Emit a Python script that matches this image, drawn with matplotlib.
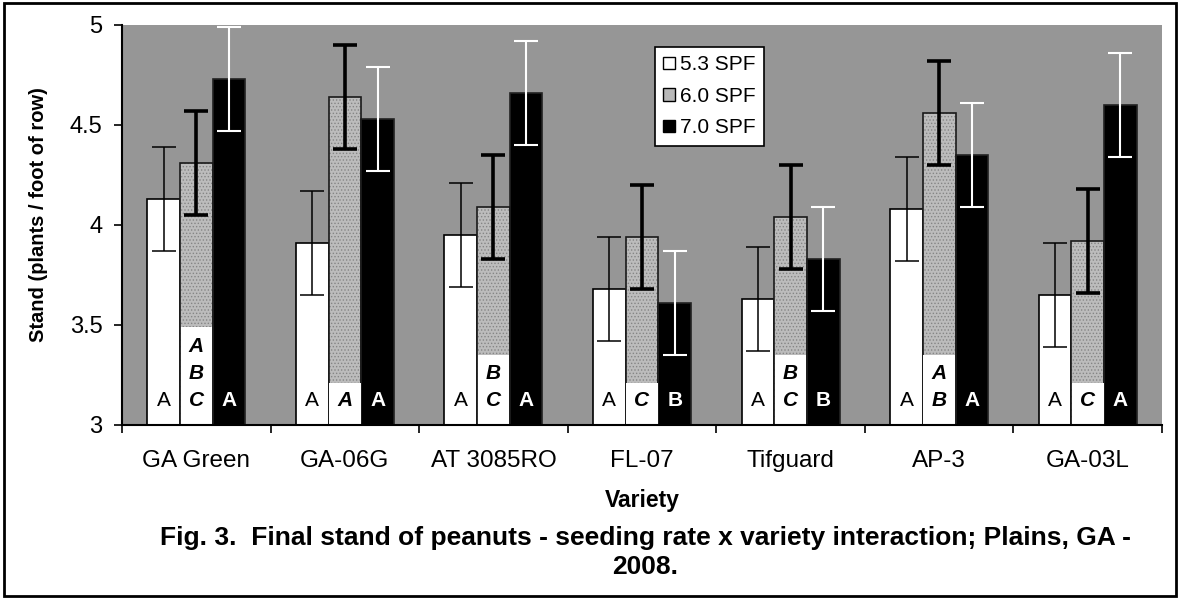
import numpy as np
import matplotlib
matplotlib.use("Agg")
import matplotlib.pyplot as plt
from matplotlib.patches import Patch, Rectangle

plt.rcParams['font.family'] = ['Liberation Sans', 'DejaVu Sans']
plt.rcParams['hatch.linewidth'] = 0.6

# data
varieties = ['GA Green', 'GA-06G', 'AT 3085RO', 'FL-07', 'Tifguard', 'AP-3', 'GA-03L']
rates = ['5.3 SPF', '6.0 SPF', '7.0 SPF']
stand_53 = [4.13, 3.91, 3.95, 3.68, 3.63, 4.08, 3.65]
stand_60 = [4.31, 4.64, 4.09, 3.94, 4.04, 4.56, 3.92]
stand_70 = [4.73, 4.53, 4.66, 3.61, 3.83, 4.35, 4.60]
err_53 = [0.26, 0.26, 0.26, 0.26, 0.26, 0.26, 0.26]
err_60 = [0.26, 0.26, 0.26, 0.26, 0.26, 0.26, 0.26]
err_70 = [0.26, 0.26, 0.26, 0.26, 0.26, 0.26, 0.26]
# mean separation letters
letters_53 = ['A', 'A', 'A', 'A', 'A', 'A', 'A']
letters_60 = ['ABC', 'A', 'BC', 'C', 'BC', 'AB', 'C']
letters_70 = ['A', 'A', 'A', 'B', 'B', 'A', 'A']

x = np.arange(len(varieties))
w = 0.22
ymin = 3

fig = plt.figure(figsize=(11.8, 5.99), dpi=100)
ax = fig.add_axes([0.1034, 0.2905, 0.8814, 0.6678])
ax.set_facecolor('#969696')

# bars
ax.bar(x - w, np.array(stand_53) - ymin, w, bottom=ymin, color='white',
       edgecolor='black', linewidth=1.2, zorder=2)
ax.bar(x, np.array(stand_60) - ymin, w, bottom=ymin, color='#bcbcbc',
       edgecolor='#858585', hatch='.....', linewidth=0, zorder=2)
ax.bar(x, np.array(stand_60) - ymin, w, bottom=ymin, fill=False,
       edgecolor='#1a1a1a', linewidth=1.2, zorder=3)
ax.bar(x + w, np.array(stand_70) - ymin, w, bottom=ymin, color='black',
       edgecolor='#222222', linewidth=1.2, zorder=2)

# error bars
ax.errorbar(x - w, stand_53, yerr=err_53, fmt='none', ecolor='black',
            elinewidth=1.1, capsize=8.5, capthick=1.1, zorder=5)
ax.errorbar(x, stand_60, yerr=err_60, fmt='none', ecolor='black',
            elinewidth=2.6, capsize=8.5, capthick=2.6, zorder=5)
ax.errorbar(x + w, stand_70, yerr=err_70, fmt='none', ecolor='white',
            elinewidth=1.5, capsize=8.5, capthick=1.5, zorder=5)

# letters at the foot of each bar
base = 3.12
step = 0.135
for i in range(len(varieties)):
    ax.text(x[i] - w, base, letters_53[i], ha='center', va='center',
            fontsize=15, color='black', zorder=6)
    ax.text(x[i] + w, base, letters_70[i], ha='center', va='center',
            fontsize=15, color='white', fontweight='bold', zorder=6)
    lt = letters_60[i]
    top = 3.21 + (len(lt) - 1) * 0.14
    ax.add_patch(Rectangle((x[i] - w / 2 + 0.004, ymin), w - 0.008, top - ymin,
                           facecolor='white', edgecolor='none', zorder=4))
    for k, ch in enumerate(reversed(lt)):
        ax.text(x[i], base + k * step, ch, ha='center', va='center',
                fontsize=15, fontweight='bold', fontstyle='italic',
                color='black', zorder=6)

ax.set_xlim(-0.5, len(varieties) - 0.5)
ax.set_ylim(3, 5)
ax.set_yticks([3, 3.5, 4, 4.5, 5])
ax.set_yticklabels(['3', '3.5', '4', '4.5', '5'])
ax.set_xticks(np.arange(-0.5, len(varieties), 1.0))
ax.set_xticklabels([])
ax.set_xticks(x, minor=True)
ax.set_xticklabels(varieties, minor=True)
ax.tick_params(axis='x', which='major', direction='out', length=6, width=1.2)
ax.tick_params(axis='x', which='minor', length=0, pad=18, labelsize=17.5)
ax.tick_params(axis='y', direction='out', length=6, width=1.2, pad=8, labelsize=17)

for s in ['top', 'right']:
    ax.spines[s].set_visible(False)
for s in ['left', 'bottom']:
    ax.spines[s].set_linewidth(1.5)
    ax.spines[s].set_zorder(7)

ax.set_ylabel('Stand (plants / foot of row)', fontsize=14.5, fontweight='bold')
ax.yaxis.set_label_coords((48 - 122) / 1040, (425 - 215) / 400)
ax.set_xlabel('Variety', fontsize=16.5, fontweight='bold')
ax.xaxis.set_label_coords(0.5, -(489 - 425) / 400)

handles = [
    Patch(facecolor='white', edgecolor='black', linewidth=1),
    Patch(facecolor='#b9b9b9', edgecolor='black', linewidth=1),
    Patch(facecolor='black', edgecolor='black', linewidth=1),
]
leg = ax.legend(handles, rates, loc='upper left', bbox_to_anchor=(655 / 1180, 1 - 47 / 599),
                bbox_transform=fig.transFigure, fontsize=15, fancybox=False,
                framealpha=1, edgecolor='black', handlelength=0.55, handleheight=0.55,
                handletextpad=0.25, labelspacing=0.6, borderpad=0.4, borderaxespad=0)
leg.get_frame().set_linewidth(1.2)
leg.set_zorder(8)

fig.text(645 / 1180, 1 - 538 / 599,
         'Fig. 3.  Final stand of peanuts - seeding rate x variety interaction; Plains, GA -',
         ha='center', va='center', fontsize=19, fontweight='bold')
fig.text(645 / 1180, 1 - 567 / 599, '2008.', ha='center', va='center',
         fontsize=19, fontweight='bold')

# outer frame
fig.add_artist(Rectangle((0.003, 0.005), 0.994, 0.99, transform=fig.transFigure,
                         fill=False, edgecolor='black', linewidth=2))

fig.savefig('out.png', dpi=100)
